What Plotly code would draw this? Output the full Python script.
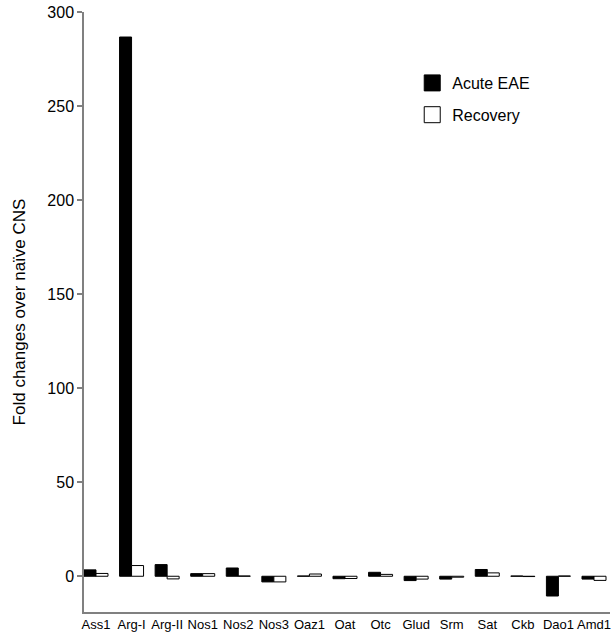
import plotly.graph_objects as go

genes = ["Ass1", "Arg-I", "Arg-II", "Nos1", "Nos2", "Nos3", "Oaz1", "Oat",
         "Otc", "Glud", "Srm", "Sat", "Ckb", "Dao1", "Amd1"]
acute_eae = [3.4, 286.7, 6.2, 1.4, 4.4, -3.0, 0.15, -1.3, 2.1, -2.3, -1.5, 3.6, 0.15, -10.5, -1.5]
recovery = [1.5, 5.7, -1.4, 1.4, 0.15, -3.0, 1.2, -1.2, 1.0, -1.5, -0.5, 1.8, -0.15, 0.15, -2.2]
series_names = ["Acute EAE", "Recovery"]
series_fills = ["black", "white"]

font_family = "Liberation Sans, Arial, Helvetica, sans-serif"

fig = go.Figure()
for vals, name, fill in zip([acute_eae, recovery], series_names, series_fills):
    fig.add_trace(go.Bar(x=genes, y=vals, name=name, showlegend=False,
                         marker=dict(color=fill, line=dict(color="black", width=1))))
# legend entries with larger square swatches
for i, (name, fill) in enumerate(zip(series_names, series_fills)):
    fig.add_trace(go.Scatter(x=[None], y=[None], mode="markers", name=name,
                             legendgroup=f"g{i}",
                             marker=dict(symbol="square", size=16, color=fill,
                                         line=dict(color="black", width=1))))

fig.update_layout(
    width=615, height=639,
    margin=dict(l=84, r=5, t=12, b=27, autoexpand=False),
    plot_bgcolor="white", paper_bgcolor="white",
    barmode="group", bargap=0.325, bargroupgap=0,
    font=dict(family=font_family, color="black", size=14),
    legend=dict(x=0.624, y=0.91, xanchor="left", yanchor="top",
                font=dict(size=16), bgcolor="rgba(0,0,0,0)",
                itemwidth=30, tracegroupgap=8, itemsizing="trace"),
    showlegend=True,
)
fig.update_xaxes(
    range=[-0.337, 14.45], showline=True, linecolor="#808080", linewidth=1.5,
    ticks="", showgrid=False, zeroline=False, automargin=False,
    tickfont=dict(size=13), tickangle=0,
)
fig.update_yaxes(
    range=[-19, 300], showline=True, linecolor="#808080", linewidth=1.5,
    ticks="outside", ticklen=5, tickcolor="#808080", tickwidth=1.5,
    tickvals=[0, 50, 100, 150, 200, 250, 300], automargin=False,
    showgrid=False, zeroline=False, tickfont=dict(size=16),
    title=dict(text="Fold changes over naïve CNS", font=dict(size=17), standoff=17),
)

fig.write_html("out.html", config={"displayModeBar": False},
               post_script="document.body.style.margin='0';")
